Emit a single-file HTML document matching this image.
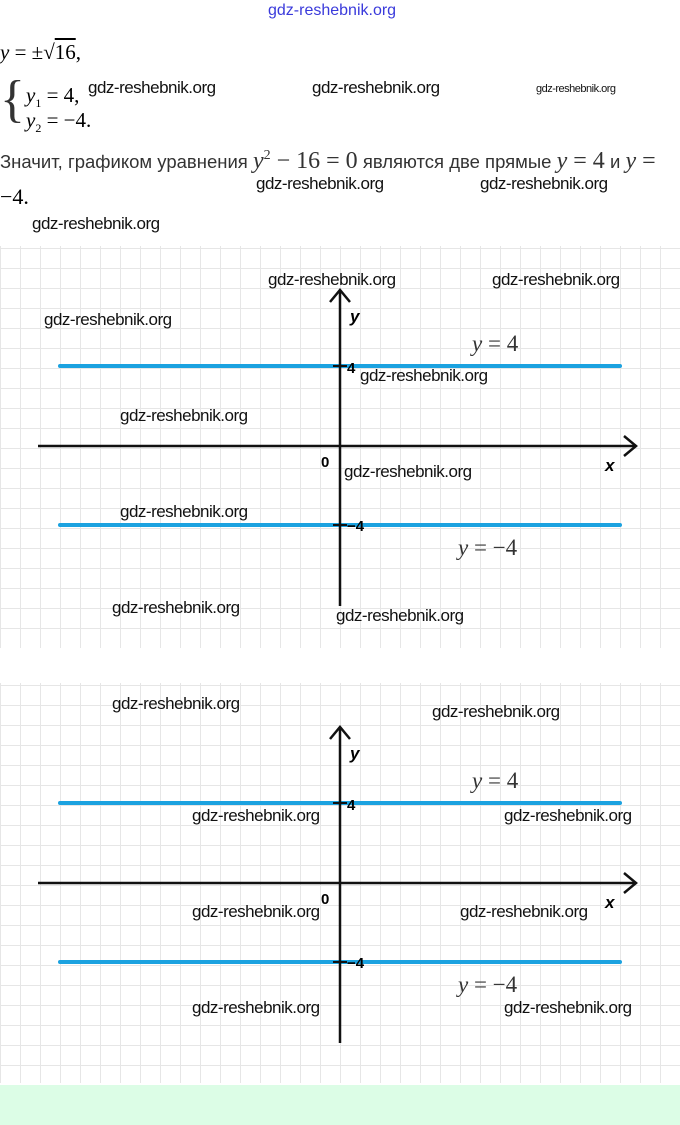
<!DOCTYPE html>
<html><head><meta charset="utf-8"><style>
body{margin:0;width:680px;height:1125px;background:#fff;position:relative;overflow:hidden;font-family:"Liberation Sans",sans-serif}
.t{position:absolute;white-space:nowrap}
.w{position:absolute;font-family:"Liberation Sans",sans-serif;font-size:17px;color:#111;white-space:nowrap;letter-spacing:-0.5px}
.grid{position:absolute;left:0;width:680px;background-image:linear-gradient(#e6e6e6 1px,transparent 1px),linear-gradient(90deg,#e6e6e6 1px,transparent 1px);background-size:20px 20px;background-position:0 2px,0 0}
</style></head><body>
<div class="t" style="left:268px;top:2px;font-size:16px;color:#3a3adb">gdz-reshebnik.org</div>
<div class="t" style="left:0;top:40px;font-size:21px;font-family:'Liberation Serif',serif"><i>y</i> = ±√<span style="text-decoration:overline">16</span>,</div>
<div class="t" style="left:0;top:74px;font-size:52px;font-family:'Liberation Serif',serif;color:#333;line-height:52px">{</div>
<div class="t" style="left:26px;top:83px;font-size:21px;font-family:'Liberation Serif',serif"><i>y</i><sub style="font-size:12px">1</sub> = 4,</div>
<div class="t" style="left:26px;top:108px;font-size:21px;font-family:'Liberation Serif',serif"><i>y</i><sub style="font-size:12px">2</sub> = −4.</div>
<div class="t" style="left:0;top:148px;font-size:18.5px;color:#333;font-family:'Liberation Sans','Noto Sans CJK SC',sans-serif">Значит, графиком уравнения <span style="font-family:'Liberation Serif',serif;font-size:24px"><i>y</i><sup style="font-size:14px">2</sup> − 16 = 0</span> являются две прямые <span style="font-family:'Liberation Serif',serif;font-size:24px"><i>y</i> = 4</span> и <span style="font-family:'Liberation Serif',serif;font-size:24px"><i>y</i> =</span></div>
<div class="t" style="left:0;top:184px;font-size:22px;font-family:'Liberation Serif',serif">−4.</div>
<div class="w" style="left:88px;top:78px">gdz-reshebnik.org</div>
<div class="w" style="left:312px;top:78px">gdz-reshebnik.org</div>
<div class="w" style="left:536px;top:83px;font-size:11px">gdz-reshebnik.org</div>
<div class="w" style="left:256px;top:174px">gdz-reshebnik.org</div>
<div class="w" style="left:480px;top:174px">gdz-reshebnik.org</div>
<div class="w" style="left:32px;top:214px">gdz-reshebnik.org</div>

<div class="grid" style="top:246px;height:402px"></div>
<div class="grid" style="top:683px;height:400px"></div>
<div style="position:absolute;left:0;top:1085px;width:680px;height:40px;background:#dcfde6"></div>

<svg width="680" height="1125" style="position:absolute;left:0;top:0">
<g id="g1" font-family="Liberation Sans,sans-serif">
<line x1="60" y1="366" x2="620" y2="366" stroke="#1ba2e0" stroke-width="4" stroke-linecap="round"/>
<line x1="60" y1="525" x2="620" y2="525" stroke="#1ba2e0" stroke-width="4" stroke-linecap="round"/>
<line x1="38" y1="446" x2="636" y2="446" stroke="#111" stroke-width="2.5"/>
<polyline points="624,436 636,446 624,456" fill="none" stroke="#111" stroke-width="2.5"/>
<line x1="340" y1="292" x2="340" y2="606" stroke="#111" stroke-width="2.5"/>
<polyline points="330,302 340,290 350,302" fill="none" stroke="#111" stroke-width="2.5"/>
<line x1="333" y1="366" x2="347" y2="366" stroke="#111" stroke-width="2"/>
<line x1="333" y1="525" x2="347" y2="525" stroke="#111" stroke-width="2"/>
<text x="347" y="373" font-size="15" font-weight="bold">4</text>
<text x="347" y="531" font-size="15" font-weight="bold">−4</text>
<text x="321" y="467" font-size="15" font-weight="bold">0</text>
<text x="605" y="471" font-size="17" font-weight="bold" font-style="italic">x</text>
<text x="350" y="322" font-size="17" font-weight="bold" font-style="italic">y</text>
<text x="472" y="351" font-size="23" font-family="Liberation Serif,serif" fill="#333"><tspan font-style="italic">y</tspan> = 4</text>
<text x="458" y="555" font-size="23" font-family="Liberation Serif,serif" fill="#333"><tspan font-style="italic">y</tspan> = −4</text>
</g>
<use href="#g1" y="437"/>
</svg>

<div class="w" style="left:268px;top:270px">gdz-reshebnik.org</div>
<div class="w" style="left:492px;top:270px">gdz-reshebnik.org</div>
<div class="w" style="left:44px;top:310px">gdz-reshebnik.org</div>
<div class="w" style="left:360px;top:366px">gdz-reshebnik.org</div>
<div class="w" style="left:120px;top:406px">gdz-reshebnik.org</div>
<div class="w" style="left:344px;top:462px">gdz-reshebnik.org</div>
<div class="w" style="left:120px;top:502px">gdz-reshebnik.org</div>
<div class="w" style="left:112px;top:598px">gdz-reshebnik.org</div>
<div class="w" style="left:336px;top:606px">gdz-reshebnik.org</div>
<div class="w" style="left:112px;top:694px">gdz-reshebnik.org</div>
<div class="w" style="left:432px;top:702px">gdz-reshebnik.org</div>
<div class="w" style="left:192px;top:806px">gdz-reshebnik.org</div>
<div class="w" style="left:504px;top:806px">gdz-reshebnik.org</div>
<div class="w" style="left:192px;top:902px">gdz-reshebnik.org</div>
<div class="w" style="left:460px;top:902px">gdz-reshebnik.org</div>
<div class="w" style="left:192px;top:998px">gdz-reshebnik.org</div>
<div class="w" style="left:504px;top:998px">gdz-reshebnik.org</div>
</body></html>
